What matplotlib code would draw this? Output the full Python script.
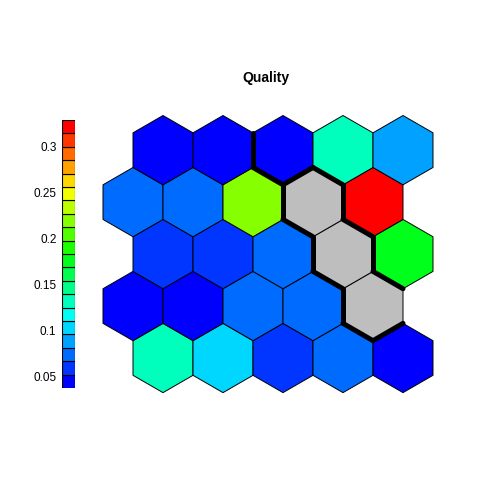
import matplotlib
matplotlib.use('Agg')
import matplotlib.pyplot as plt
from matplotlib.patches import RegularPolygon
from matplotlib.colors import LinearSegmentedColormap
import numpy as np

# SOM unit quality, rows listed from the top of the map down (nan = empty unit)
quality_rows = [
    [0.041, 0.045, 0.043, 0.131, 0.089],
    [0.072, 0.075, 0.219, np.nan, 0.329],
    [0.058, 0.061, 0.078, np.nan, 0.176],
    [0.038, 0.047, 0.070, 0.074, np.nan],
    [0.134, 0.104, 0.063, 0.077, 0.049],
]
# cluster membership, same layout
cluster_rows = [
    [1, 1, 2, 2, 2],
    [1, 1, 1, 3, 2],
    [1, 1, 1, 3, 2],
    [1, 1, 1, 1, 3],
    [1, 1, 1, 1, 1],
]
cbar_ticks = [0.05, 0.1, 0.15, 0.2, 0.25, 0.3]
n_colors = 20

quality = np.array(quality_rows[::-1])   # row 0 = bottom
clusters = np.array(cluster_rows[::-1])
nrow, ncol = quality.shape

palette = LinearSegmentedColormap.from_list(
    'som', ['blue', 'cyan', '#00FF00', 'yellow', 'red'], N=n_colors)
colors = [palette(i) for i in range(n_colors)]
zmin, zmax = np.nanmin(quality), np.nanmax(quality)
breaks = np.linspace(zmin, zmax, n_colors + 1)

# hex centres: bottom row shifted half a unit to the right
R = 1 / np.sqrt(3)
centers = {}
for r in range(nrow):
    for c in range(ncol):
        x = c + 1 + (0.5 if r % 2 == 0 else 0.0)
        y = 1 + r * np.sqrt(3) / 2
        centers[(r, c)] = (x, y)

fig = plt.figure(figsize=(4.8, 4.8), dpi=100)
W = H = 480.0
ax = fig.add_axes([91 / W, (H - 400) / H, 342 / W, 282 / H])
ax.set_xlim(0.3, 6.0)
ax.set_ylim(0.3, 5.0)
ax.axis('off')

for (r, c), (x, y) in centers.items():
    v = quality[r, c]
    if np.isnan(v):
        fc = '#BEBEBE'
    else:
        idx = min(int(np.searchsorted(breaks, v, side='right')) - 1, n_colors - 1)
        fc = colors[max(idx, 0)]
    ax.add_patch(RegularPolygon((x, y), numVertices=6, radius=R, orientation=0,
                                facecolor=fc, edgecolor='black', linewidth=0.7,
                                clip_on=False))

# cluster boundaries between neighbouring units
keys = list(centers.keys())
for i, a in enumerate(keys):
    for b in keys[i + 1:]:
        pa, pb = np.array(centers[a]), np.array(centers[b])
        d = pb - pa
        if abs(np.hypot(*d) - 1) > 1e-6 or clusters[a] == clusters[b]:
            continue
        m = (pa + pb) / 2
        perp = np.array([-d[1], d[0]]) / np.hypot(*d)
        p1, p2 = m + perp * R / 2, m - perp * R / 2
        ax.plot([p1[0], p2[0]], [p1[1], p2[1]], color='black',
                linewidth=3.6, solid_capstyle='round', clip_on=False)

fig.text(266 / W, (H - 78) / H, 'Quality', ha='center', va='center',
         fontsize=10, fontweight='bold', family='Liberation Sans')

# colour key
cax = fig.add_axes([62 / W, (H - 388) / H, 13 / W, 268 / H])
cax.bar(0, np.diff(breaks), bottom=breaks[:-1], width=1, align='center',
        color=colors, edgecolor='black', linewidth=0.8)
cax.set_xlim(-0.5, 0.5)
cax.set_ylim(zmin, zmax)
cax.set_xticks([])
cax.set_yticks(cbar_ticks)
cax.set_yticklabels(['%g' % t for t in cbar_ticks], family='Liberation Sans', fontsize=8.5)
cax.tick_params(axis='y', length=0, pad=4)
for s in cax.spines.values():
    s.set_visible(False)

plt.savefig('out.png', dpi=100)
